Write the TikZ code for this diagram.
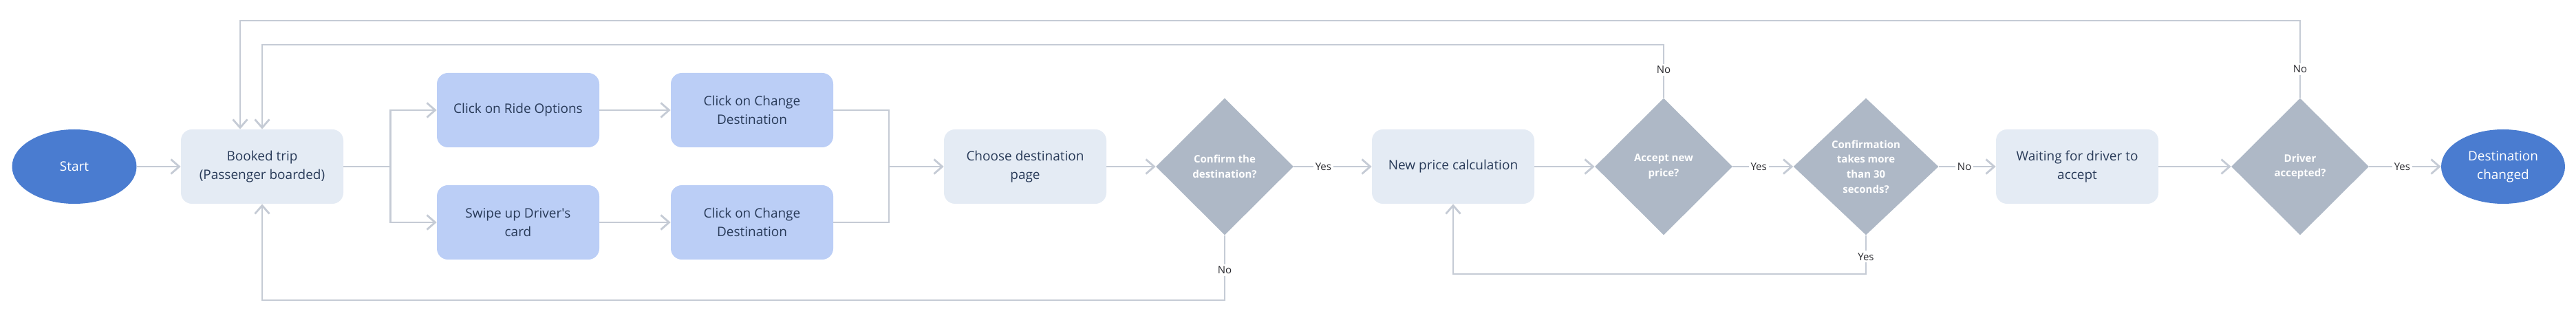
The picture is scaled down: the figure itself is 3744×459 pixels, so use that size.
\documentclass[tikz,border=0pt]{standalone}
\usepackage{fontspec}
\setmainfont{Open Sans}
\usetikzlibrary{shapes.geometric,arrows.meta}
\definecolor{startblue}{RGB}{74,124,208}
\definecolor{lightblue}{RGB}{187,206,246}
\definecolor{pale}{RGB}{228,235,244}
\definecolor{diam}{RGB}{174,184,198}
\definecolor{linegray}{RGB}{197,203,213}
\definecolor{navy}{RGB}{40,58,88}
\definecolor{lbltxt}{RGB}{40,40,45}
\begin{document}
\begin{tikzpicture}[x=0.5pt,y=-0.5pt,
  terminal/.style={ellipse, fill=startblue, text=white, minimum width=90.5pt, minimum height=54pt, inner sep=0pt, align=center, font=\fontsize{9.5}{13.5}\selectfont},
  process/.style={rectangle, rounded corners=8pt, fill=pale, text=navy, minimum width=118pt, minimum height=54pt, inner sep=0pt, align=center, font=\fontsize{9.5}{13.5}\selectfont},
  action/.style={process, fill=lightblue},
  decision/.style={diamond, fill=diam, text=white, minimum width=100pt, minimum height=99.5pt, inner sep=0pt, align=center, font=\bfseries\fontsize{7.5}{10.8}\selectfont},
  conn/.style={draw=linegray, line width=1.4pt},
  arr/.style={conn, -{Straight Barb[length=6pt,width=10.5pt]}},
  lbl/.style={fill=white, text=lbltxt, inner sep=1.5pt, font=\fontsize{7.5}{9}\selectfont},
]
\useasboundingbox (0,0) rectangle (3744,459);

\node[terminal] (start) at (108,242) {Start};
\node[process] (booked) at (381,242) {Booked trip\\(Passenger boarded)};
\node[action] (ride) at (753,160) {Click on Ride Options};
\node[action] (swipe) at (753,323) {Swipe up Driver\textquotesingle s\\card};
\node[action] (cd1) at (1093,160) {Click on Change\\Destination};
\node[action] (cd2) at (1093,323) {Click on Change\\Destination};
\node[process] (choose) at (1490,242) {Choose destination\\page};
\node[decision] (confirm) at (1780,242) {Confirm the\\destination?};
\node[process] (price) at (2112,242) {New price calculation};
\node[decision] (accept) at (2418,242) {Accept new\\price?};
\node[decision, minimum width=105.5pt] (slow) at (2712,242) {Confirmation\\takes more\\than 30\\seconds?};
\node[process] (wait) at (3019,242) {Waiting for driver to\\accept};
\node[decision] (driver) at (3343,242) {Driver\\accepted?};
\node[terminal, minimum width=90pt] (done) at (3638,242) {Destination\\changed};

\coordinate (merge) at (1292,242);
\coordinate (ylow) at (0,436);
\coordinate (ymid) at (0,398);
\coordinate (yin) at (0,65);
\coordinate (yout) at (0,30);

\draw[arr] (start) -- (booked);
\draw[conn] (booked.east) -- ++(68,0) coordinate (fork);
\draw[arr] (fork) |- (ride.west);
\draw[arr] (fork) |- (swipe.west);
\draw[arr] (ride) -- (cd1);
\draw[arr] (swipe) -- (cd2);
\draw[conn] (cd1.east) -| (merge);
\draw[conn] (cd2.east) -| (merge);
\draw[arr] (merge) -- (choose.west);
\draw[arr] (choose) -- (confirm);
\draw[arr] (confirm) -- node[lbl,pos=0.38]{Yes} (price);
\draw[arr] (price) -- (accept);
\draw[arr] (accept) -- node[lbl,pos=0.43]{Yes} (slow);
\draw[arr] (slow) -- node[lbl,pos=0.45]{No} (wait);
\draw[arr] (wait) -- (driver);
\draw[arr] (driver) -- node[lbl,pos=0.46]{Yes} (done);

\draw[arr] (confirm.south) -- node[lbl,pos=0.54]{No} (confirm.south |- ylow) -| (booked.south);
\draw[arr] (slow.south) -- node[lbl,pos=0.55]{Yes} (slow.south |- ymid) -| (price.south);
\draw[arr] (accept.north) -- node[lbl,pos=0.53]{No} (accept.north |- yin) -| (booked.north);
\draw[arr] (driver.north) -- node[lbl,pos=0.37]{No} (driver.north |- yout) -| ([xshift=-16pt]booked.north);
\end{tikzpicture}
\end{document}
